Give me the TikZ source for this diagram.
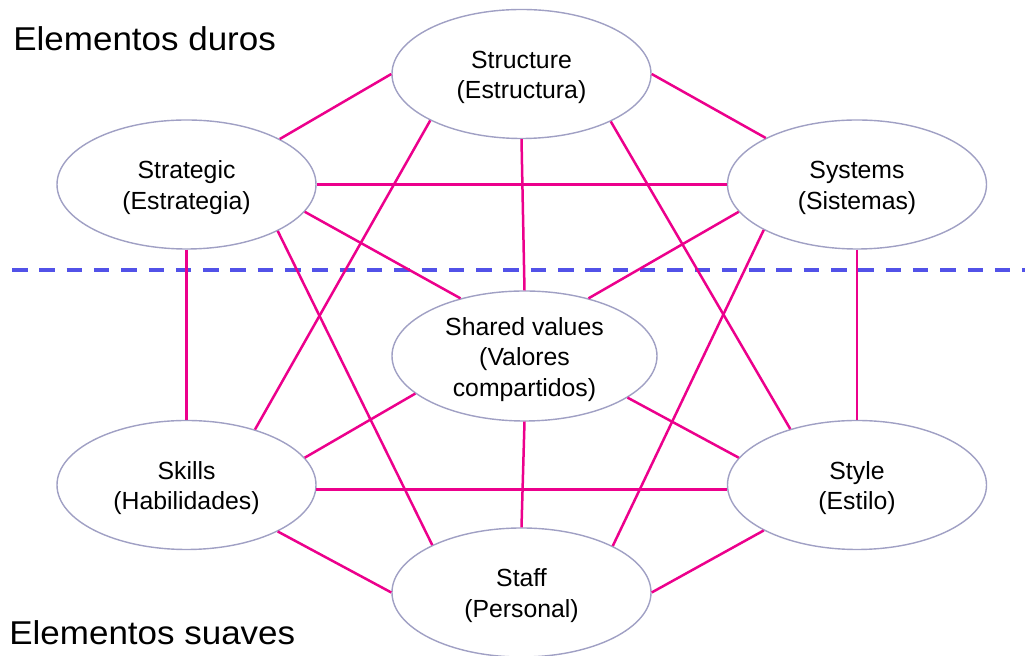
\documentclass[tikz,border=0pt]{standalone}
\usepackage{graphicx}
\usepackage{fontspec}
\setmainfont{Liberation Sans}
\usetikzlibrary{shapes.geometric}
\definecolor{linkpink}{RGB}{236,0,140}
\definecolor{rimgrey}{RGB}{160,160,196}
\definecolor{splitblue}{RGB}{82,82,232}
% centred lines of an element, set a little below the middle of the ellipse
\newcommand\elemtext[1]{\raisebox{-1.8pt}[\height][\depth]{\begin{tabular}{@{}c@{}}#1\end{tabular}}}
\begin{document}
\begin{tikzpicture}[x=0.5pt,y=-0.5pt,
  element/.style={ellipse, draw=rimgrey, line width=0.7pt, fill=white,
    minimum width=129.5pt, minimum height=64.5pt, inner sep=0pt,
    font=\fontsize{12.4}{15.2}\selectfont},
  link/.style={draw=linkpink, line width=1.25pt},
  divider/.style={draw=splitblue, line width=2pt, dash pattern=on 7.75pt off 5.9pt},
  heading/.style={anchor=base west, inner sep=0pt, font=\fontsize{16.5}{20}\selectfont}]
\useasboundingbox (0,0) rectangle (1025,656);

% boundary between hard and soft elements
\coordinate (divL) at (12,270);
\coordinate (divR) at (1025,270);
\draw[divider] (divL) -- (divR);

% the seven elements
\node[element] (structure) at (521.5,74)    {\elemtext{Structure\\(Estructura)}};
\node[element] (strategic) at (186.5,184.5) {\elemtext{Strategic\\(Estrategia)}};
\node[element] (systems)   at (857,184.5)   {\elemtext{Systems\\(Sistemas)}};
\node[element, minimum width=132.5pt, minimum height=65pt]
               (shared)    at (524.5,356)   {\elemtext{Shared values\\(Valores\\compartidos)}};
\node[element] (skills)    at (186.5,485)   {\elemtext{Skills\\(Habilidades)}};
\node[element] (style)     at (857,485)     {\elemtext{Style\\(Estilo)}};
\node[element] (staff)     at (521.5,592.5) {\elemtext{Staff\\(Personal)}};

% group headings
\node[heading] (hard) at (13,51)  {\scalebox{1.06}[1]{Elementos duros}};
\node[heading] (soft) at (9,645)  {\scalebox{1.06}[1]{Elementos suaves}};

% links between the elements
\draw[link] (strategic.26.6)  -- (structure.west);
\draw[link] (structure.east)  -- (systems.153.6);
\draw[link] (structure.south) -- (shared.north);
\draw[link] (structure.207.3) -- (skills.39.5);
\draw[link] (structure.332.5) -- (style.140);
\draw[link] (strategic.east)  -- (systems.west);
\draw[link] (strategic.347.4) -- (shared.138.6);
\draw[link] (strategic.south) -- (skills.north);
\draw[link] (strategic.333.7) -- (staff.152.9);
\draw[link] (systems.193.8)   -- (shared.42.4);
\draw[link] (systems.south)   -- (style.north);
\draw[link] (systems.206.5)   -- (staff.27);
\draw[link] (shared.199.6)    -- (skills.13.9);
\draw[link] (shared.338.6)    -- (style.167.8);
\draw[link] (shared.south)    -- (staff.north);
\draw[link] (skills.358.7)    -- (skills.358.7 -| style.west);
\draw[link] (skills.333.3)    -- (staff.west);
\draw[link] (style.206)       -- (staff.east);
\end{tikzpicture}
\end{document}
